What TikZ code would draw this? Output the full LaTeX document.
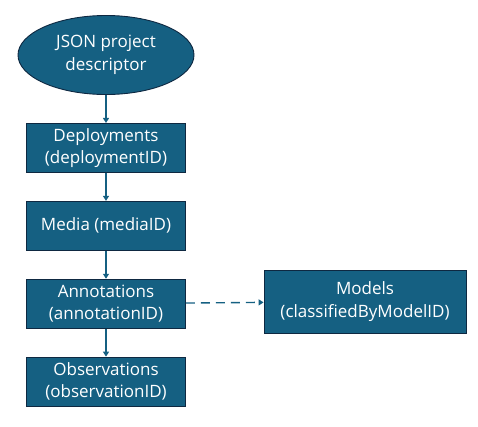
\documentclass[tikz,border=0pt]{standalone}
\usepackage{fontspec}
\setmainfont{Open Sans}
\usetikzlibrary{shapes.geometric,arrows.meta,positioning}
\definecolor{tableblue}{RGB}{21,96,130}
\definecolor{edgenavy}{RGB}{14,40,65}
\tikzset{
  entity/.style={draw=edgenavy,line width=0.9pt,fill=tableblue,text=white,
    minimum width=159pt,minimum height=49pt,align=center,inner sep=1pt,
    font=\fontsize{17}{22.5}\selectfont},
  source/.style={entity,ellipse,minimum width=176pt,minimum height=79pt,inner sep=0pt},
  link/.style={draw=tableblue,line width=1.4pt,-{Triangle[length=5pt,width=6pt]}},
  weaklink/.style={link,dash pattern=on 9pt off 6pt}
}
\begin{document}
\begin{tikzpicture}[x=1pt,y=-1pt]
  \useasboundingbox (0,0) rectangle (478,426);
  \node[source] (descriptor) at (106,55) {JSON project\\descriptor};
  \node[entity,below=28pt of descriptor] (deployments) {Deployments\\(deploymentID)};
  \node[entity,below=28pt of deployments] (media) {Media (mediaID)};
  \node[entity,below=28pt of media] (annotations) {Annotations\\(annotationID)};
  \node[entity,below=28pt of annotations] (observations) {Observations\\(observationID)};
  \node[entity,minimum width=202pt,minimum height=63pt] (models) at (365,301.5) {Models\\(classifiedByModelID)};
  % connectors
  \draw[link] (descriptor) -- (deployments);
  \draw[link] (deployments) -- (media);
  \draw[link] (media) -- (annotations);
  \draw[link] (annotations) -- (observations);
  \draw[weaklink] (annotations) -- (models);
\end{tikzpicture}
\end{document}
